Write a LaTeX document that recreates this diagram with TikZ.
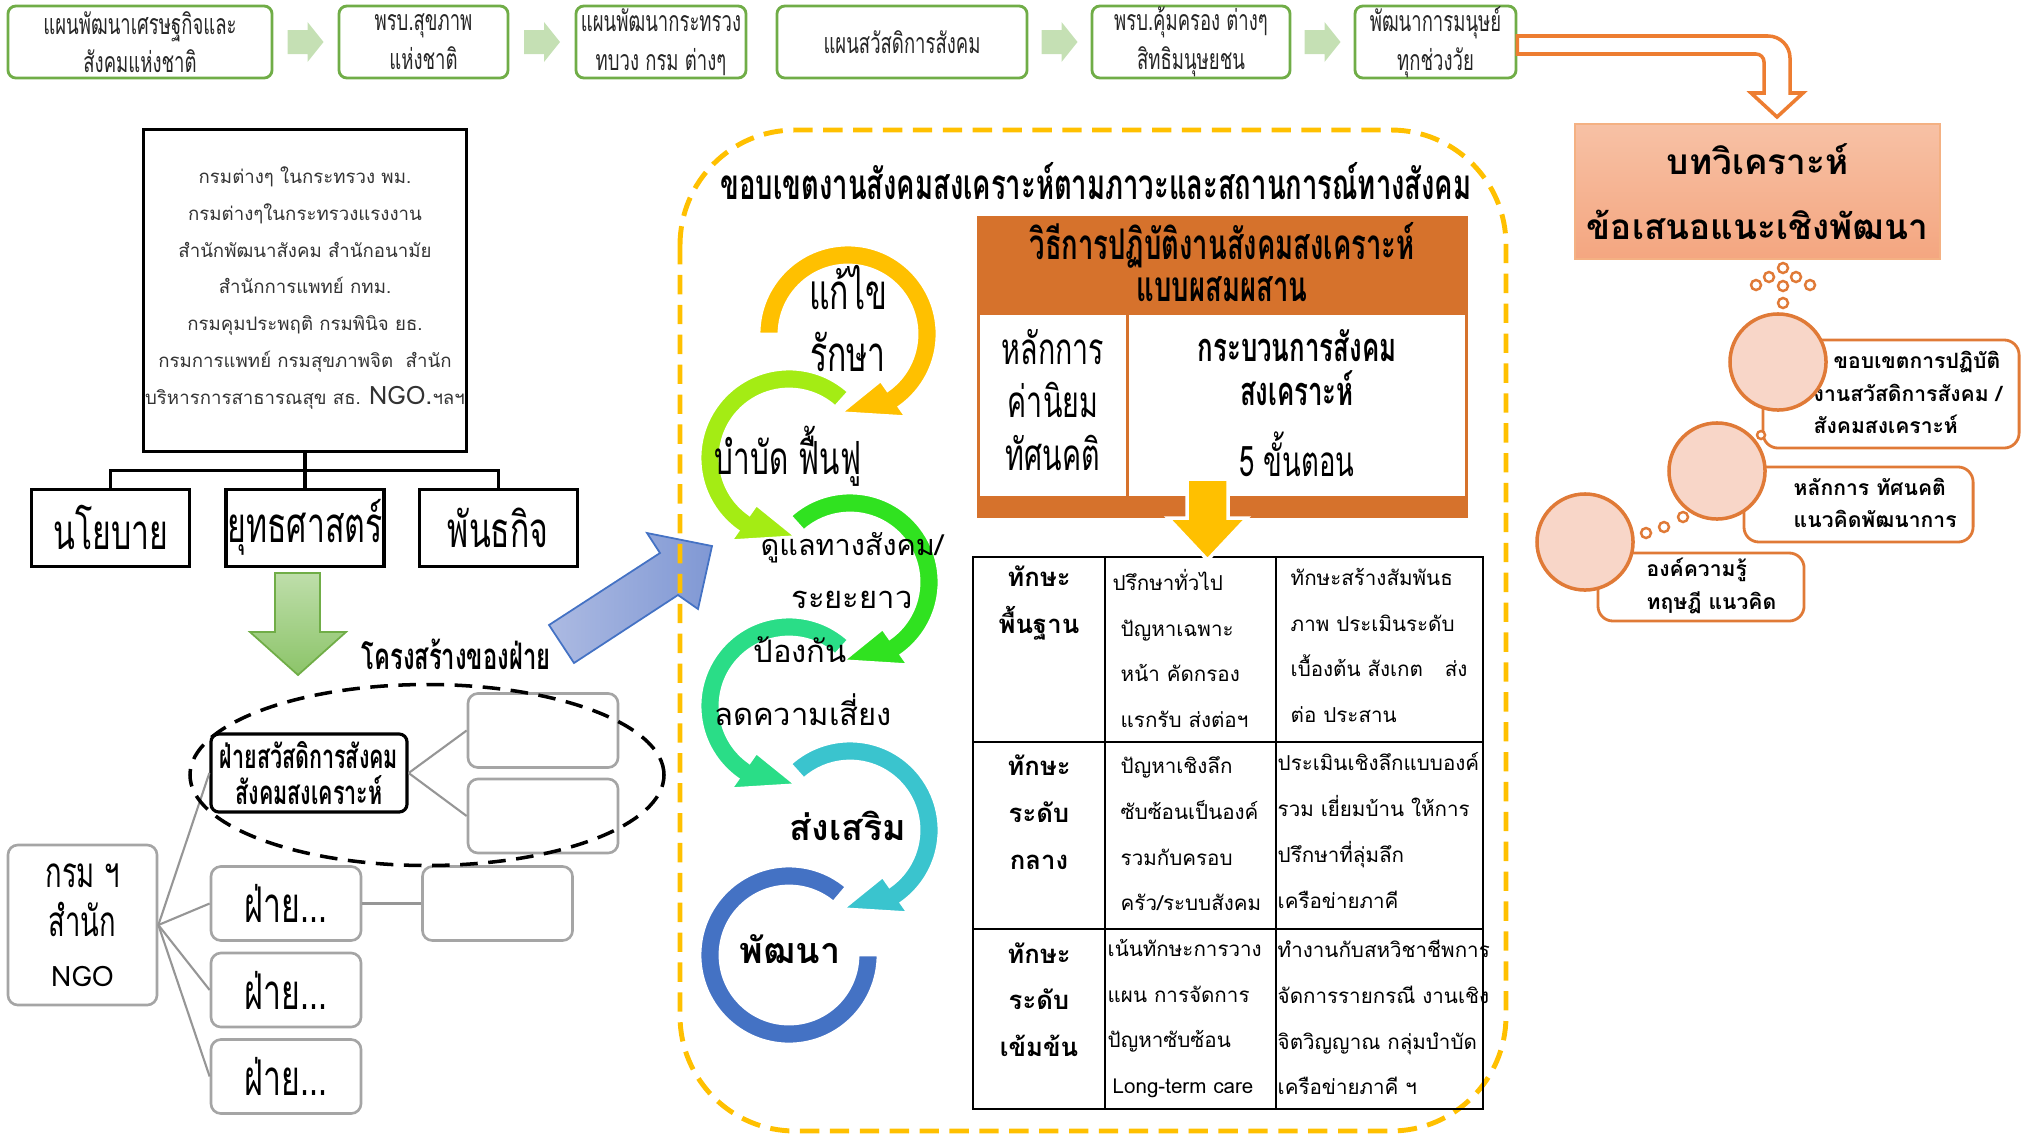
\documentclass[tikz,border=0pt]{standalone}
\usepackage{fontspec}
\usepackage{tikz}
\usetikzlibrary{positioning,calc}
\newfontfamily\thai[Script=Thai]{Loma}
\newfontfamily\thaicnd[Script=Thai,FakeStretch=0.65]{Loma}
\newcommand\fz[2]{\fontsize{#1}{#2}\selectfont}
\definecolor{topgreen}{RGB}{112,173,71}
\definecolor{arrgreen}{RGB}{197,224,180}
\definecolor{downgreenT}{RGB}{190,222,170}
\definecolor{downgreenB}{RGB}{140,196,105}
\definecolor{bentorange}{RGB}{237,125,49}
\definecolor{salmonT}{RGB}{247,193,165}
\definecolor{salmonB}{RGB}{244,166,128}
\definecolor{salmonEdge}{RGB}{244,177,131}
\definecolor{bubbleline}{RGB}{224,122,55}
\definecolor{bubblefill}{RGB}{248,214,200}
\definecolor{dashyellow}{RGB}{255,192,0}
\definecolor{taborange}{RGB}{214,114,44}
\definecolor{boxgray}{RGB}{165,165,165}
\definecolor{linegray}{RGB}{150,150,150}
\definecolor{blueL}{RGB}{172,186,226}
\definecolor{blueD}{RGB}{128,152,212}
\definecolor{blueEdge}{RGB}{68,114,196}
\definecolor{ringyellow}{RGB}{255,192,0}
\definecolor{ringlime}{RGB}{164,236,20}
\definecolor{ringgreen}{RGB}{48,226,32}
\definecolor{ringteal}{RGB}{42,221,135}
\definecolor{ringcyan}{RGB}{58,196,206}
\definecolor{ringblue}{RGB}{68,114,196}

\begin{document}
\begin{tikzpicture}[x=0.01cm, y=0.01cm,
  topbox/.style={rectangle, rounded corners=0.08cm, draw=topgreen, line width=0.8pt, fill=white, align=center, text=black!85, inner sep=0pt, minimum height=0.72cm, font=\thaicnd\fz{8.1}{11}},
  flowarrow/.pic={\fill[arrgreen] (-18,-12) -- (2,-12) -- (2,-20) -- (18,0) -- (2,20) -- (2,12) -- (-18,12) -- cycle;},
  pillar/.style={rectangle, draw, line width=0.9pt, minimum width=1.58cm, minimum height=0.77cm, inner sep=0pt, font=\thaicnd\fz{14}{14}},
  graybox/.style={rectangle, rounded corners=0.1cm, draw=boxgray, line width=0.75pt, fill=white, minimum width=1.5cm, minimum height=0.74cm, inner sep=0pt, align=center, font=\thaicnd\fz{14}{14}},
  linkgray/.style={draw=linegray, line width=0.6pt},
  cyclecnd/.style={inner sep=0pt, font=\thaicnd\fz{14}{14}},
  cyclereg/.style={inner sep=0pt, font=\thai\fz{8.8}{9}},
  cyclebold/.style={inner sep=0pt, font=\thai\bfseries\fz{10.2}{10}},
  cellhead/.style={inner sep=0pt, align=center, font=\thai\bfseries\fz{7.3}{13.3}},
  cell/.style={inner sep=0pt, align=left, anchor=west, font=\thai\fz{5.85}{13}},
  bubblebox/.style={rectangle, rounded corners=0.15cm, draw=bubbleline, line width=0.8pt, fill=white},
  bubbletext/.style={inner sep=0pt, align=left, anchor=west, font=\thai\bfseries\fz{6}{9.3}},
  bubble/.style={circle, draw=bubbleline, line width=1pt, fill=bubblefill, minimum size=0.96cm, inner sep=0pt},
  dot/.style={circle, draw=bubbleline, line width=0.7pt, fill=white, minimum size=0.1cm, inner sep=0pt}]
\useasboundingbox (0,0) rectangle (2031,-1136);

% top row of plans
\node (t1) [topbox, minimum width=2.64cm] at (140,-42) {แผนพัฒนาเศรษฐกิจและ\\สังคมแห่งชาติ};
\node (t2) [topbox, minimum width=1.69cm] at (423.5,-42) {พรบ.สุขภาพ\\แห่งชาติ};
\node (t3) [topbox, minimum width=1.70cm] at (661,-42) {แผนพัฒนากระทรวง\\ทบวง กรม ต่างๆ};
\node (t4) [topbox, minimum width=2.50cm] at (902,-42) {แผนสวัสดิการสังคม};
\node (t5) [topbox, minimum width=1.98cm] at (1191,-42) {พรบ.คุ้มครอง ต่างๆ\\สิทธิมนุษยชน};
\node (t6) [topbox, minimum width=1.61cm] at (1435.5,-42) {พัฒนาการมนุษย์\\ทุกช่วงวัย};
\pic at ($(t1.east)!0.5!(t2.west)$) {flowarrow};
\pic at ($(t2.east)!0.5!(t3.west)$) {flowarrow};
\pic at ($(t4.east)!0.5!(t5.west)$) {flowarrow};
\pic at ($(t5.east)!0.5!(t6.west)$) {flowarrow};
\draw[bentorange, line width=1pt, fill=white] ($(t6.east)+(0,6)$) -- (1768,-36) arc[start angle=90, end angle=0, radius=22] -- (1790,-93) -- (1803,-93) -- (1777,-117) -- (1751,-93) -- (1764,-93) -- (1764,-62) arc[start angle=0, end angle=90, radius=8] -- ($(t6.east)+(0,-12)$) -- cycle;%bent arrow to analysis

% left side: departments
\node (dept) [draw, line width=0.9pt, minimum width=3.22cm, minimum height=3.21cm] at (305,-290.5) {};
\node (depttext) [align=center, text=black!80, font=\thai\fz{5.3}{10.5}] at (305,-288) {กรมต่างๆ ในกระทรวง พม.\\กรมต่างๆในกระทรวงแรงงาน\\สำนักพัฒนาสังคม สำนักอนามัย\\สำนักการแพทย์ กทม.\\กรมคุมประพฤติ กรมพินิจ ยธ.\\กรมการแพทย์ กรมสุขภาพจิต~ สำนัก\\บริหารการสาธารณสุข สธ. {\fz{7.2}{10.5}NGO.}ฯลฯ};
\node (strategy) [pillar, below=0.35cm of dept] {ยุทธศาสตร์};
\node (policy) [pillar, left=0.33cm of strategy] {นโยบาย};
\node (mission) [pillar, right=0.32cm of strategy] {พันธกิจ};
\coordinate (fork) at ($(dept.south)+(0,-18)$);
\draw[line width=0.9pt] (dept.south) -- (fork);
\draw[line width=0.9pt] (policy.north) |- (fork) -| (mission.north);
\draw[line width=0.9pt] (fork) -- (strategy.north);
\path[top color=downgreenT, bottom color=downgreenB, draw=topgreen, line width=0.5pt] (275,-573) -- (320,-573) -- (320,-632) -- (346,-632) -- (298,-675) -- (250,-632) -- (275,-632) -- cycle;%green down arrow
\node (struct) [inner sep=0pt, font=\thaicnd\bfseries\fz{10.4}{10}] at (456,-654) {โครงสร้างของฝ่าย};

% structure of the division
\node (welfare) [draw, line width=0.9pt, rounded corners=0.08cm, fill=white, minimum width=1.96cm, minimum height=0.78cm, inner sep=0pt, align=center, font=\thaicnd\bfseries\fz{9.4}{10}] at (309,-773) {ฝ่ายสวัสดิการสังคม\\สังคมสงเคราะห์};
\node (e1) [graybox] at (543,-730.5) {};
\node (e2) [graybox] at (543,-816) {};
\node (org) [graybox, minimum width=1.49cm, minimum height=1.6cm, font=\thaicnd\fz{12}{14}] at (82.5,-925) {กรม ฯ\\สำนัก\\{\thai\fz{8}{14}NGO}};
\node (f1) [graybox] at (286,-903.5) {ฝ่าย...};
\node (f2) [graybox] at (286,-990) {ฝ่าย...};
\node (f3) [graybox] at (286,-1076.5) {ฝ่าย...};
\node (e3) [graybox] at (497.5,-903.5) {};
\draw[linkgray] (welfare.east) -- (e1.west);
\draw[linkgray] (welfare.east) -- (e2.west);
\draw[linkgray] (f1.east) -- (e3.west);
\foreach \d in {welfare,f1,f2,f3}
  \draw[linkgray] (org.east) -- (\d.west);
\draw[line width=1pt, dash pattern=on 5pt off 3pt] (427,-775) ellipse [x radius=237, y radius=90.5];%dashed group

% blue arrow into the scope frame
\path[left color=blueL, right color=blueD, draw=blueEdge, line width=0.5pt] (549,-625) -- (660,-553) -- (647,-533) -- (712,-546) -- (698,-609) -- (678,-595) -- (574,-663) -- cycle;

% scope frame
\draw[dashyellow, line width=1.4pt, dash pattern=on 5.5pt off 3pt, rounded corners=1.15cm] (680,-130) rectangle (1506,-1131);
\node (scope) [inner sep=0pt, font=\thaicnd\bfseries\fz{12}{12}] at (1096,-181) {ขอบเขตงานสังคมสงเคราะห์ตามภาวะและสถานการณ์ทางสังคม};

% cycle of social work
\foreach \cx/\cy/\sa/\ea/\ta/\rc in {848/-334/180/-55/-95/ringyellow, 789/-458/48/235/275/ringlime, 850/-582/132/-55/-95/ringgreen, 789/-706/48/235/275/ringteal, 850/-830/132/-55/-95/ringcyan}
  \filldraw[fill=\rc, draw=white, line width=0.8pt, shift={(\cx,\cy)}] (\sa:89) arc[start angle=\sa, end angle=\ea, radius=89] -- (\ea:101) -- (\ta:79) -- (\ea:57) -- (\ea:69) arc[start angle=\ea, end angle=\sa, radius=69] -- cycle;
\filldraw[fill=ringblue, draw=white, line width=0.8pt, shift={(789,-955)}] (50:89) arc[start angle=50, end angle=360, radius=89] -- (0:69) arc[start angle=360, end angle=50, radius=69] -- cycle;
\node (fix) [cyclecnd] at (848,-288) {แก้ไข};
\node (treat) [cyclecnd] at (848,-352) {รักษา};
\node (rehab) [cyclecnd, font=\thaicnd\fz{13}{13}] at (788,-456) {บำบัด ฟื้นฟู};
\node (care) [cyclereg, font=\thai\fz{8.2}{9}] at (852,-548) {ดูแลทางสังคม/};
\node (longterm) [cyclereg] at (852,-600) {ระยะยาว};
\node (prevent) [cyclereg] at (800,-650) {ป้องกัน};
\node (risk) [cyclereg] at (803,-710) {ลดความเสี่ยง};
\node (promote) [cyclebold] at (848,-826) {ส่งเสริม};
\node (develop) [cyclebold] at (790,-949) {พัฒนา};

% integrated practice
\fill[taborange] (977,-216) rectangle (1468,-518);
\node (method) [inner sep=0pt, align=center, font=\thaicnd\bfseries\fz{12}{12}] at (1222,-262) {วิธีการปฏิบัติงานสังคมสงเคราะห์\\แบบผสมผสาน};
\node (valuescell) [fill=white, minimum width=1.46cm, minimum height=1.81cm, inner sep=0pt] at (1053,-405.5) {};
\node (values) [inner sep=0pt, align=center, font=\thaicnd\fz{12.5}{15}] at (1053,-400) {หลักการ\\ค่านิยม\\ทัศนคติ};
\node (processcell) [fill=white, minimum width=3.36cm, minimum height=1.81cm, inner sep=0pt] at (1297,-405.5) {};
\node (process) [inner sep=0pt, align=center, font=\thaicnd\bfseries\fz{11.3}{12.5}] at (1297,-368) {กระบวนการสังคม\\สงเคราะห์};
\node (steps) [inner sep=0pt, font=\thaicnd\fz{12}{12}] at (1297,-454) {5 ขั้นตอน};

% skills table
\draw[line width=0.75pt] (973,-557) rectangle (1483,-1109);
\draw[line width=0.75pt] (1105,-557) -- (1105,-1109) (1276,-557) -- (1276,-1109);
\draw[line width=0.75pt] (973,-742) -- (1483,-742) (973,-929) -- (1483,-929);
\node (basic) [cellhead] at (1039,-603) {ทักษะ\\พื้นฐาน};
\node (middle) [cellhead] at (1039,-812) {ทักษะ\\ระดับ\\กลาง};
\node (intense) [cellhead] at (1039,-999.5) {ทักษะ\\ระดับ\\เข้มข้น};
\node (basicA) [cell] at (1112,-648.5) {ปรึกษาทั่วไป\\\hspace{0.08cm}ปัญหาเฉพาะ\\\hspace{0.08cm}หน้า คัดกรอง\\\hspace{0.08cm}แรกรับ ส่งต่อฯ};
\node (basicB) [cell] at (1290,-645.5) {ทักษะสร้างสัมพันธ\\ภาพ ประเมินระดับ\\เบื้องต้น สังเกต\hspace{0.15cm} ส่ง\\ต่อ ประสาน};
\node (middleA) [cell] at (1120,-834) {ปัญหาเชิงลึก\\ซับซ้อนเป็นองค์\\รวมกับครอบ\\ครัว/ระบบสังคม};
\node (middleB) [cell] at (1277,-830.5) {ประเมินเชิงลึกแบบองค์\\รวม เยี่ยมบ้าน ให้การ\\ปรึกษาที่ลุ่มลึก\\เครือข่ายภาคี};
\node (intenseA) [cell] at (1107,-1018.5) {เน้นทักษะการวาง\\แผน การจัดการ\\ปัญหาซับซ้อน\\\hspace{0.05cm}Long-term care};
\node (intenseB) [cell] at (1277,-1017.5) {ทำงานกับสหวิชาชีพการ\\จัดการรายกรณี งานเชิง\\จิตวิญญาณ กลุ่มบำบัด\\เครือข่ายภาคี ฯ};
\filldraw[fill=dashyellow, draw=white, line width=1pt] (1187,-479) -- (1228,-479) -- (1228,-518) -- (1247,-518) -- (1207.5,-560) -- (1168,-518) -- (1187,-518) -- cycle;%yellow down arrow

% analysis and thought bubbles
\node (analysis) [top color=salmonT, bottom color=salmonB, draw=salmonEdge, line width=0.6pt, minimum width=3.65cm, minimum height=1.35cm, inner sep=0pt, align=center, font=\thai\bfseries\fz{10}{18.5}] at (1757.5,-191.5) {บทวิเคราะห์\\ข้อเสนอแนะเชิงพัฒนา};
\foreach \px/\py in {1783/-268, 1769/-277, 1796/-277, 1756/-285, 1810/-285, 1783/-286, 1783/-303}
  \node[dot] at (\px,\py) {};
\node (scopebox) [bubblebox, minimum width=2.56cm, minimum height=1.08cm] at (1891,-394) {};
\node (scopetext) [bubbletext] at (1813,-392.5) {\hspace{0.2cm}ขอบเขตการปฏิบัติ\\งานสวัสดิการสังคม /\\สังคมสงเคราะห์};
\node (dotA) [dot, minimum size=0.08cm] at (1761,-435) {};
\node (scopecirc) [bubble] at (1778,-362) {};
\node (ideabox) [bubblebox, minimum width=2.29cm, minimum height=0.75cm] at (1858.5,-504.5) {};
\node (ideatext) [bubbletext] at (1793,-503) {หลักการ ทัศนคติ\\แนวคิดพัฒนาการ};
\node (ideacirc) [bubble] at (1717,-471) {};
\node (knowbox) [bubblebox, minimum width=2.06cm, minimum height=0.68cm] at (1701,-587) {};
\node (knowtext) [bubbletext] at (1646,-586) {องค์ความรู้\\ทฤษฎี แนวคิด};
\node (knowcirc) [bubble] at (1585,-542) {};
\foreach \px/\py in {1646/-533, 1664/-527, 1683/-517}
  \node[dot] at (\px,\py) {};
\end{tikzpicture}
\end{document}
